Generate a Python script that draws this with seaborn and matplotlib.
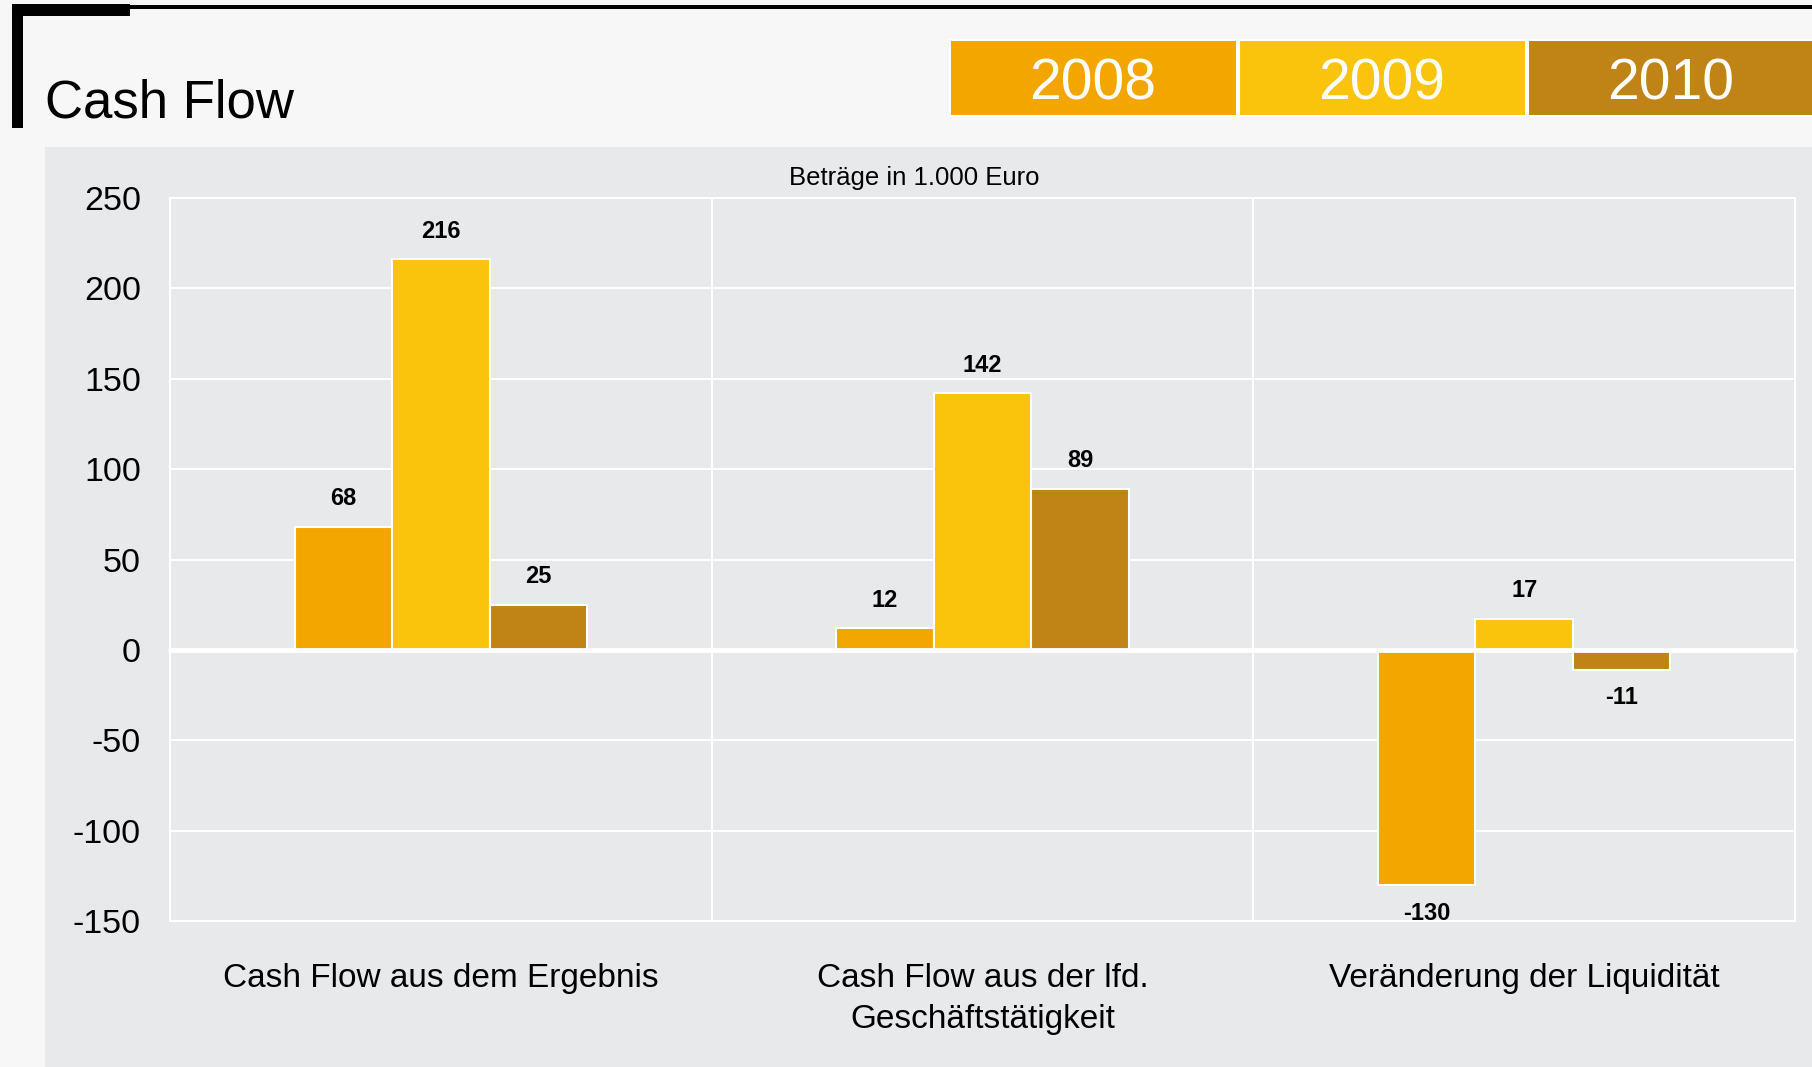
import matplotlib
matplotlib.use("Agg")
import matplotlib.pyplot as plt
from matplotlib.patches import Rectangle
import seaborn as sns
import pandas as pd

# Daten (Beträge in 1.000 Euro)
years = ["2008", "2009", "2010"]
categories = ["Cash Flow aus dem Ergebnis",
              "Cash Flow aus der lfd.\nGeschäftstätigkeit",
              "Veränderung der Liquidität"]
values_2008 = [68, 12, -130]
values_2009 = [216, 142, 17]
values_2010 = [25, 89, -11]
year_colors = ["#F3A600", "#FAC40C", "#C08316"]
y_ticks = [-150, -100, -50, 0, 50, 100, 150, 200, 250]

df = pd.DataFrame({
    "Kategorie": categories * 3,
    "Jahr": [y for y in years for _ in categories],
    "Wert": values_2008 + values_2009 + values_2010,
})

sns.set_theme(style="darkgrid")
plt.rcParams['font.family'] = ['Liberation Sans', 'DejaVu Sans']
plt.rcParams['text.color'] = 'black'
plt.rcParams['xtick.color'] = 'black'
plt.rcParams['ytick.color'] = 'black'
plt.rcParams['axes.unicode_minus'] = False

W, H = 1812, 1067
fig = plt.figure(figsize=(W / 100, H / 100), dpi=100, facecolor="#F7F7F7")


def px_rect(x0, y0, x1, y1, **kw):
    # Rechteck in Pixeln (Ursprung oben links)
    return Rectangle((x0 / W, 1 - y1 / H), (x1 - x0) / W, (y1 - y0) / H,
                     transform=fig.transFigure, **kw)


# Rahmen oben links
fig.add_artist(px_rect(12, 5, W, 9, facecolor="black", edgecolor="none"))
fig.add_artist(px_rect(12, 4, 130, 16, facecolor="black", edgecolor="none"))
fig.add_artist(px_rect(12, 4, 23, 128, facecolor="black", edgecolor="none"))

# grauer Hintergrund des Diagramms
fig.add_artist(px_rect(45, 147, W, H, facecolor="#E8E9EB", edgecolor="none", zorder=0))

fig.text(45 / W, 1 - 118 / H, "Cash Flow", fontsize=38, va="baseline", ha="left")

# Jahres-Legende als farbige Kästen
box_x = 950
for year, col in zip(years, year_colors):
    fig.add_artist(px_rect(box_x, 40, box_x + 287, 116, facecolor=col,
                           edgecolor="white", linewidth=1.5))
    fig.text((box_x + 143) / W, 1 - 100 / H, year, color="white", fontsize=41,
             ha="center", va="baseline")
    box_x += 289

ax = fig.add_axes([170 / W, 1 - 921 / H, (1795 - 170) / W, (921 - 198) / H])
ax.set_facecolor("#E8E9EB")

sns.barplot(data=df, x="Kategorie", y="Wert", hue="Jahr", hue_order=years,
            order=categories, palette=year_colors, saturation=1, width=0.54,
            edgecolor="white", linewidth=1.5, ax=ax, legend=False, zorder=3)

for cont in ax.containers:
    ax.bar_label(cont, padding=12, fontsize=17, fontweight="bold")

ax.set_ylim(-150, 250)
ax.set_xlim(-0.5, 2.5)
ax.set_yticks(y_ticks)
ax.set_xticks([0.5, 1.5], minor=True)
ax.grid(axis="x", which="major", visible=False)
ax.grid(axis="x", which="minor", color="white", linewidth=1.5)
ax.grid(axis="y", which="major", color="white", linewidth=1.5)
ax.axhline(0, color="white", linewidth=3.5, zorder=4, clip_on=False)
for s in ax.spines.values():
    s.set_visible(True)
    s.set_color("white")
    s.set_linewidth(1.5)
ax.tick_params(axis="y", labelsize=24.5, pad=21, length=0)
ax.tick_params(axis="x", labelsize=24, pad=30, length=0, which="both")
for lbl in ax.get_xticklabels():
    lbl.set_linespacing(1.45)
ax.set_xlabel("")
ax.set_ylabel("")

fig.text(914 / W, 1 - 178 / H, "Beträge in 1.000 Euro", fontsize=18.5,
         ha="center", va="center")

fig.savefig("out.png", dpi=100, facecolor=fig.get_facecolor())
